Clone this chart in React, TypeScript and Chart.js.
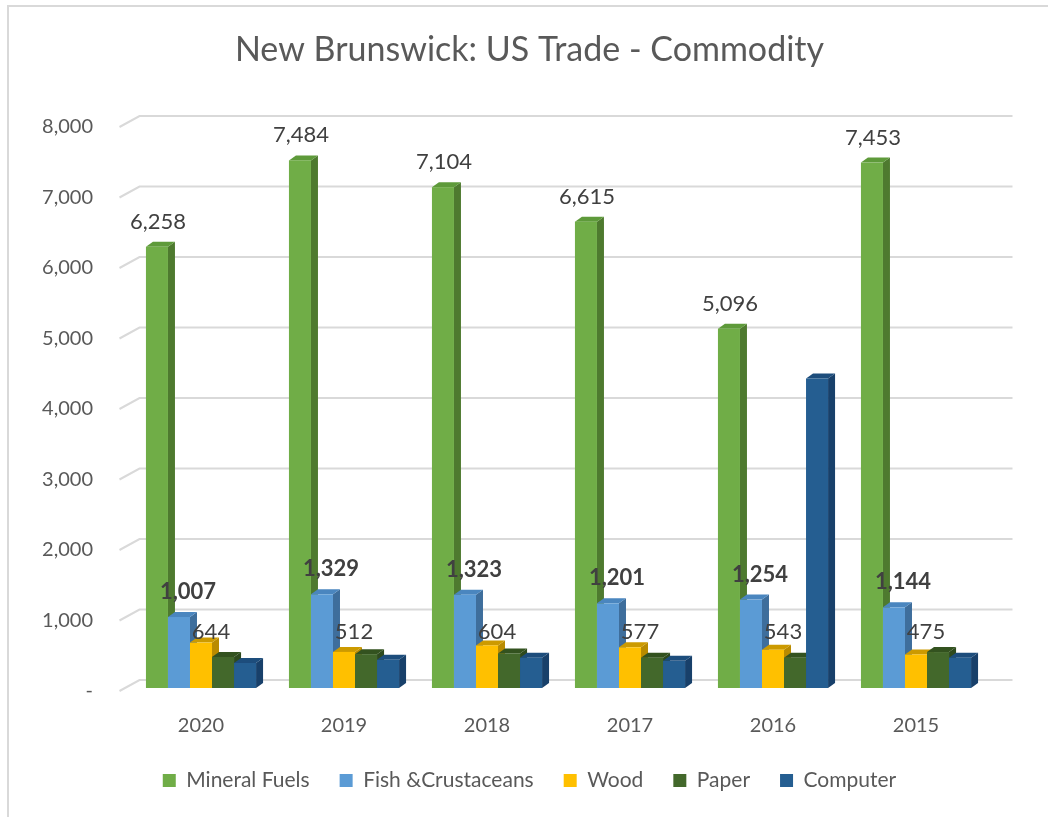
import React, { useEffect, useRef } from 'react';
import { Chart, registerables } from 'chart.js';

Chart.register(...registerables);

const years = ['2020', '2019', '2018', '2017', '2016', '2015'];
const seriesNames = ['Mineral Fuels', 'Fish &Crustaceans', 'Wood', 'Paper', 'Computer'];
const mineralFuels = [6258, 7484, 7104, 6615, 5096, 7453];
const fishCrustaceans = [1007, 1329, 1323, 1201, 1254, 1144];
const wood = [644, 512, 604, 577, 543, 475];
const paper = [440, 480, 490, 430, 430, 510];
const computer = [355, 400, 430, 385, 4390, 430];
const yTickValues = [0, 1000, 2000, 3000, 4000, 5000, 6000, 7000, 8000];
const yTickLabels = ['-', '1,000', '2,000', '3,000', '4,000', '5,000', '6,000', '7,000', '8,000'];

const frontColors = ['#70AD47', '#5B9BD5', '#FFC000', '#43682B', '#255E91'];
const sideColors = ['#4E7A2F', '#3E6E9C', '#B98B00', '#2E4A1D', '#18406A'];
const topColors = ['#5E9A3A', '#4A86BF', '#CC9A00', '#33521F', '#1D4D7C'];

const FONT = 'Lato, "Open Sans", sans-serif';
const TEXT = '#595959';
const LABEL = '#404040';
const DX = 7;
const DY = 5;

const fmt = (v: number) => v.toLocaleString('en-US');

const threeD = {
  id: 'threeD',
  afterLayout(chart: any) {
    // let the y tick labels extend left of the scale box without being clipped
    chart.scales.y.left = 0;
  },
  beforeDatasetsDraw(chart: any) {
    const { ctx, chartArea } = chart;
    const y = chart.scales.y;
    ctx.save();
    ctx.strokeStyle = '#D9D9D9';
    ctx.lineWidth = 2;
    yTickValues.forEach((v) => {
      const py = y.getPixelForValue(v);
      ctx.beginPath();
      ctx.moveTo(chartArea.left - 10, py + 3);
      ctx.lineTo(chartArea.left + 10, py - 8);
      ctx.lineTo(chartArea.right + 25, py - 8);
      ctx.stroke();
    });
    ctx.restore();
  },
  afterDatasetsDraw(chart: any) {
    const { ctx } = chart;
    const n = chart.data.labels.length;
    const nd = chart.data.datasets.length;
    ctx.save();
    for (let i = 0; i < n; i++) {
      for (let d = 0; d < nd; d++) {
        const el = chart.getDatasetMeta(d).data[i];
        const { x, y, base, width } = el.getProps(['x', 'y', 'base', 'width'], true);
        const l = x - width / 2;
        const r = x + width / 2;
        ctx.fillStyle = sideColors[d];
        ctx.beginPath();
        ctx.moveTo(r, y);
        ctx.lineTo(r + DX, y - DY);
        ctx.lineTo(r + DX, base - DY);
        ctx.lineTo(r, base);
        ctx.closePath();
        ctx.fill();
        ctx.fillStyle = topColors[d];
        ctx.beginPath();
        ctx.moveTo(l, y);
        ctx.lineTo(l + DX, y - DY);
        ctx.lineTo(r + DX, y - DY);
        ctx.lineTo(r, y);
        ctx.closePath();
        ctx.fill();
        ctx.fillStyle = frontColors[d];
        ctx.fillRect(l, y, width, base - y);
      }
    }
    // data labels
    const ys = chart.scales.y;
    ctx.textAlign = 'center';
    ctx.textBaseline = 'middle';
    ctx.fillStyle = LABEL;
    for (let i = 0; i < n; i++) {
      const m = chart.getDatasetMeta(0).data[i];
      ctx.font = `normal 22px ${FONT}`;
      ctx.fillText(fmt(mineralFuels[i]), m.x + 1, m.y - 25);
      const f = chart.getDatasetMeta(1).data[i];
      ctx.font = `bold 22px ${FONT}`;
      ctx.fillText(fmt(fishCrustaceans[i]), f.x + 9, f.y - 25);
      const w = chart.getDatasetMeta(2).data[i];
      ctx.font = `normal 22px ${FONT}`;
      ctx.fillText(fmt(wood[i]), w.x + 10, ys.getPixelForValue(800));
    }
    ctx.restore();
  },
};

export default function App() {
  const ref = useRef<HTMLCanvasElement | null>(null);
  useEffect(() => {
    if (!ref.current) return;
    const series = [mineralFuels, fishCrustaceans, wood, paper, computer];
    const chart = new Chart(ref.current, {
      type: 'bar',
      data: {
        labels: years,
        datasets: series.map((data, i) => ({
          label: seriesNames[i],
          data,
          backgroundColor: 'rgba(0,0,0,0)',
          borderWidth: 0,
          categoryPercentage: 0.77,
          barPercentage: 1,
        })),
      },
      options: {
        responsive: false,
        animation: false,
        devicePixelRatio: 1,
        layout: { padding: { left: 71.5, right: 60.5, top: 0, bottom: 16 } },
        plugins: {
          tooltip: { enabled: false },
          title: {
            display: true,
            text: 'New Brunswick: US Trade - Commodity',
            color: TEXT,
            font: { family: FONT, size: 34, weight: 'normal', lineHeight: 1.2 },
            padding: { top: 30, bottom: 53.2 },
          },
          legend: {
            position: 'bottom',
            onClick: () => {},
            labels: {
              color: TEXT,
              font: { family: FONT, size: 21 },
              boxWidth: 13,
              boxHeight: 13,
              padding: 30,
              generateLabels: () =>
                seriesNames.map((t, i) => ({
                  text: t,
                  fillStyle: frontColors[i],
                  strokeStyle: frontColors[i],
                  lineWidth: 0,
                  hidden: false,
                  datasetIndex: i,
                  fontColor: TEXT,
                })),
            },
          },
        },
        scales: {
          x: {
            grid: { display: false, drawTicks: false },
            border: { display: false },
            ticks: { color: TEXT, font: { family: FONT, size: 20 }, padding: 26 },
            afterFit: (s: any) => {
              s.height = 52;
            },
          },
          y: {
            min: 0,
            max: 8000,
            grid: { display: false, drawTicks: false },
            border: { display: false },
            ticks: {
              stepSize: 1000,
              color: TEXT,
              font: { family: FONT, size: 20 },
              padding: 36.5,
              labelOffset: 3,
              callback: (v: any) => yTickLabels[yTickValues.indexOf(Number(v))] ?? fmt(Number(v)),
            },
            afterFit: (s: any) => {
              s.width = 58;
            },
          },
        },
      },
      plugins: [threeD],
    });
    return () => chart.destroy();
  }, []);

  return (
    <div style={{ position: 'absolute', left: 0, top: 0, width: 1048, height: 817, background: '#fff' }}>
      <div
        style={{
          position: 'absolute',
          left: 7,
          top: 5,
          width: 1100,
          height: 900,
          borderLeft: '2px solid #D9D9D9',
          borderTop: '2px solid #D9D9D9',
        }}
      />
      <canvas ref={ref} width={1048} height={817} style={{ position: 'absolute', left: 0, top: 0 }} />
    </div>
  );
}
